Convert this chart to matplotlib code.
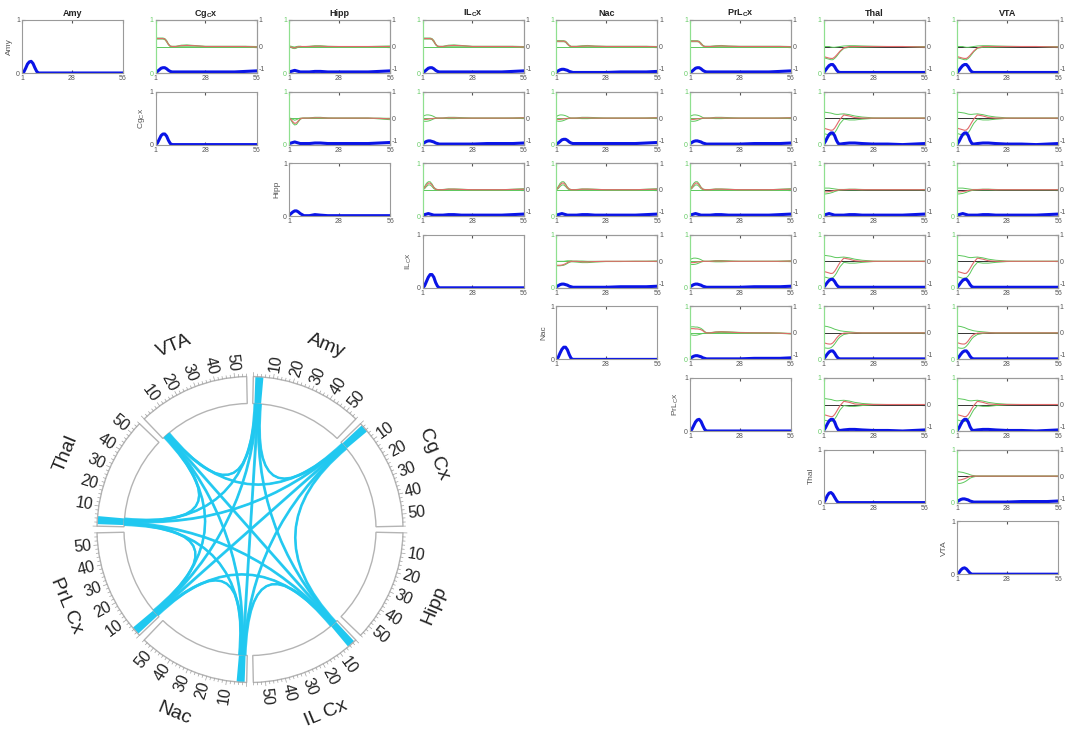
import matplotlib.pyplot as plt
import numpy as np
from matplotlib.patches import Wedge, PathPatch
from matplotlib.path import Path

plt.rcParams['font.family'] = ['Liberation Sans', 'DejaVu Sans']
plt.rcParams['mathtext.fontset'] = 'custom'
plt.rcParams['mathtext.rm'] = 'Liberation Sans'
plt.rcParams['mathtext.bf'] = 'Liberation Sans:bold'
plt.rcParams['mathtext.default'] = 'regular'
plt.rcParams['axes.unicode_minus'] = False

# === data ===
REGIONS = ['Amy', 'Cg', 'Hipp', 'IL', 'Nac', 'PrL', 'Thal', 'VTA']
PANEL_NAMES = ['Amy', 'Cg$_C$x', 'Hipp', 'IL$_C$x', 'Nac', 'PrL$_C$x', 'Thal', 'VTA']
TITLES = ['Amy', r'Cg$_\mathbf{C}$x', 'Hipp', r'IL$_\mathbf{C}$x', 'Nac',
          r'PrL$_\mathbf{C}$x', 'Thal', 'VTA']

# time lags (x axis) where values were read
XS = [1, 2, 3, 4, 5, 6, 7, 8, 9, 10, 12, 15, 18, 22, 28, 36, 44, 50, 56]

# diagonal panels (blue, left axis 0..1)
DIAG_BLUE = {
    'Amy':  [0, .02, .09, .17, .21, .22, .18, .10, .03, 0, 0, 0, 0, 0, 0, 0, 0, 0, 0],
    'Cg':   [0, .03, .10, .17, .20, .20, .16, .08, .02, 0, 0, 0, 0, 0, 0, 0, 0, 0, 0],
    'Hipp': [.02, .05, .08, .10, .10, .08, .05, .03, .01, .01, .01, .03, .02, .01, .01, .01, .01, .01, .01],
    'IL':   [0, .04, .12, .20, .25, .25, .20, .10, .03, 0, 0, 0, 0, 0, 0, 0, 0, 0, 0],
    'Nac':  [0, .04, .12, .19, .23, .23, .18, .09, .02, 0, 0, 0, 0, 0, 0, 0, 0, 0, 0],
    'PrL':  [0, .03, .10, .17, .21, .22, .18, .10, .03, 0, 0, 0, 0, 0, 0, 0, 0, 0, 0],
    'Thal': [0, .05, .13, .18, .19, .16, .10, .04, 0, 0, 0, 0, 0, 0, 0, 0, 0, 0, 0],
    'VTA':  [0, .03, .08, .11, .12, .10, .06, .02, 0, 0, 0, 0, 0, 0, 0, 0, 0, 0, 0],
}

# off-diagonal blue curves (left axis 0..1)
B_FLAT = [.02, .03, .04, .05, .04, .03, .02, .02, .02, .02, .02, .03, .03, .02, .02, .02, .02, .03, .04]
B_SMALL = [.02, .04, .06, .07, .07, .06, .05, .03, .02, .01, .01, .01, .01, .01, .01, .02, .02, .02, .03]
B_PEAK = [.01, .03, .06, .09, .10, .10, .08, .05, .03, .02, .02, .02, .02, .02, .02, .02, .02, .03, .04]
B_MID = [.01, .05, .10, .14, .16, .16, .12, .06, .02, .01, .01, .01, .01, .01, .01, .01, .01, .01, .01]
B_BIG = [.01, .06, .13, .19, .22, .22, .17, .08, .02, .01, .02, .03, .03, .02, .01, .01, 0, .01, .02]

# off-diagonal red estimate and green bounds (right axis -1..1): (red, upper, lower)
DROP = ([.30, .30, .30, .30, .30, .28, .20, .08, .01, 0, 0, .03, .04, .03, 0, 0, 0, 0, -.02],
        [.32, .32, .32, .32, .32, .30, .23, .10, .02, .01, .01, .05, .06, .04, .01, .01, .01, .01, 0],
        [.28, .28, .28, .28, .28, .26, .17, .06, 0, -.01, -.01, -.01, -.01, -.01, -.01, -.01, -.01, -.02, -.04])
DROP_LOW = ([.20, .20, .20, .20, .20, .18, .10, .03, 0, 0, 0, .01, .02, .01, 0, 0, 0, 0, -.01],
            [.22, .22, .22, .22, .22, .20, .13, .05, .01, .01, .01, .03, .04, .02, .01, .01, .01, .01, 0],
            [.18, .18, .18, .18, .18, .16, .08, .02, -.01, -.01, -.01, -.01, -.01, -.01, -.01, -.01, -.01, -.02, -.03])
FLAT_DIP = ([0, -.02, -.05, -.05, -.03, -.01, 0, 0, 0, 0, 0, .01, .01, 0, 0, 0, 0, 0, 0],
            [.02, .01, -.01, -.02, 0, .01, .01, 0, 0, 0, .01, .03, .03, .01, 0, 0, 0, .01, .02],
            [-.02, -.04, -.07, -.08, -.06, -.02, -.01, 0, 0, 0, -.01, -.01, -.01, -.01, 0, 0, 0, -.02, -.03])
LOOP_DOWN = ([0, -.05, -.14, -.20, -.18, -.10, -.03, 0, 0, 0, 0, .01, .01, 0, 0, 0, 0, -.01, -.03],
             [0, -.01, -.05, -.08, -.06, -.02, 0, 0, 0, 0, .01, .03, .03, .01, 0, 0, 0, 0, -.01],
             [0, -.08, -.20, -.26, -.24, -.14, -.05, -.01, 0, 0, -.01, -.01, -.01, -.01, 0, 0, 0, -.03, -.06])
ELLIPSE = ([-.04, -.05, -.05, -.04, -.03, -.02, -.01, 0, 0, 0, 0, .01, .01, 0, 0, 0, 0, 0, .01],
           [.06, .10, .12, .12, .11, .09, .06, .02, 0, 0, .01, .03, .03, .02, 0, 0, 0, .01, .02],
           [-.10, -.12, -.12, -.11, -.09, -.06, -.03, -.01, 0, 0, -.01, -.02, -.02, -.01, 0, 0, 0, -.01, -.01])
LOOP_UP = ([0, .08, .18, .25, .25, .18, .08, .02, 0, 0, 0, .02, .02, .01, 0, 0, 0, .01, .02],
           [.02, .12, .24, .30, .30, .22, .10, .03, .01, 0, .01, .03, .03, .02, 0, 0, 0, .02, .04],
           [0, .04, .12, .18, .18, .12, .04, 0, 0, 0, -.01, 0, 0, 0, 0, 0, 0, 0, 0])
THAL_A = ([-.38, -.40, -.42, -.44, -.45, -.45, -.40, -.33, -.25, -.17, -.05, 0, 0, 0, 0, 0, 0, -.01, -.02],
          [0, 0, 0, 0, -.02, -.03, -.03, -.02, -.01, 0, .02, .03, .03, .02, .01, 0, 0, 0, 0],
          [-.42, -.44, -.46, -.48, -.50, -.50, -.45, -.38, -.29, -.20, -.07, -.03, -.03, -.02, -.01, 0, 0, -.01, -.02])
THAL_B = ([-.38, -.40, -.42, -.44, -.46, -.45, -.38, -.27, -.15, -.04, .12, .08, .02, 0, 0, 0, 0, 0, 0],
          [.22, .22, .21, .20, .19, .17, .15, .14, .14, .15, .16, .13, .08, .04, .01, 0, 0, 0, 0],
          [-.58, -.60, -.62, -.64, -.64, -.62, -.55, -.45, -.32, -.20, -.04, -.07, -.07, -.04, -.01, 0, 0, 0, 0])
THAL_C = ([-.37, -.39, -.41, -.42, -.42, -.38, -.30, -.20, -.12, -.06, -.01, 0, 0, 0, 0, 0, 0, 0, 0],
          [.26, .25, .24, .22, .20, .17, .14, .12, .10, .08, .06, .04, .02, 0, 0, 0, 0, 0, 0],
          [-.55, -.57, -.58, -.58, -.56, -.50, -.42, -.32, -.22, -.15, -.06, -.02, 0, 0, 0, 0, 0, 0, 0])
THAL_D = ([-.08, -.08, -.08, -.07, -.06, -.05, -.03, -.02, -.01, 0, 0, .01, .01, 0, 0, 0, 0, 0, 0],
          [.06, .06, .06, .06, .05, .04, .03, .02, .01, .01, .01, .02, .02, .01, 0, 0, 0, 0, .01],
          [-.16, -.16, -.15, -.14, -.12, -.10, -.07, -.05, -.03, -.02, -.01, -.01, -.01, -.01, 0, 0, 0, 0, -.01])
SMALL_NEG = ([-.15, -.15, -.15, -.14, -.12, -.09, -.05, -.02, 0, 0, 0, -.02, -.02, -.01, 0, 0, 0, 0, 0],
             [0, 0, 0, 0, 0, .01, .02, .02, .02, .01, .01, .01, 0, 0, 0, 0, 0, 0, .01],
             [-.17, -.17, -.17, -.16, -.15, -.12, -.08, -.04, -.02, -.02, -.03, -.05, -.05, -.03, -.01, -.01, 0, 0, 0])
PRL_DROP = ([.16, .16, .16, .15, .15, .14, .12, .08, .03, 0, 0, .03, .04, .03, .01, 0, 0, -.01, -.03],
            [.22, .23, .23, .22, .22, .20, .17, .12, .05, .01, .01, .04, .05, .04, .02, .01, 0, 0, -.02],
            [-.05, -.08, -.09, -.09, -.08, -.06, -.04, -.02, -.01, 0, 0, .01, .02, .01, 0, 0, 0, -.02, -.04])
VTA_CONV = ([-.15, -.15, -.14, -.12, -.10, -.07, -.04, -.02, 0, 0, 0, 0, 0, 0, 0, 0, 0, 0, 0],
            [.16, .16, .15, .14, .12, .10, .08, .05, .03, .02, 0, 0, 0, 0, 0, 0, 0, 0, 0],
            [-.28, -.28, -.27, -.25, -.22, -.18, -.13, -.08, -.05, -.03, 0, 0, 0, 0, 0, 0, 0, 0, 0])

PANELS = {
    (0, 1): (DROP, B_PEAK), (0, 2): (FLAT_DIP, B_FLAT), (0, 3): (DROP, B_PEAK),
    (0, 4): (DROP_LOW, B_SMALL), (0, 5): (DROP_LOW, B_PEAK), (0, 6): (THAL_A, B_MID),
    (0, 7): (THAL_A, B_MID),
    (1, 2): (LOOP_DOWN, B_FLAT), (1, 3): (ELLIPSE, B_SMALL), (1, 4): (ELLIPSE, B_PEAK),
    (1, 5): (ELLIPSE, B_SMALL), (1, 6): (THAL_B, B_BIG), (1, 7): (THAL_B, B_BIG),
    (2, 3): (LOOP_UP, B_FLAT), (2, 4): (LOOP_UP, B_FLAT), (2, 5): (LOOP_UP, B_FLAT),
    (2, 6): (THAL_D, B_FLAT), (2, 7): (THAL_D, B_FLAT),
    (3, 4): (SMALL_NEG, B_SMALL), (3, 5): (ELLIPSE, B_SMALL), (3, 6): (THAL_B, B_MID),
    (3, 7): (THAL_B, B_MID),
    (4, 5): (PRL_DROP, B_SMALL), (4, 6): (THAL_C, B_MID), (4, 7): (THAL_C, B_MID),
    (5, 6): (THAL_B, B_BIG), (5, 7): (THAL_B, B_BIG),
    (6, 7): (VTA_CONV, B_SMALL),
}

# chord diagram
RING_NAMES = ['Amy', 'Cg Cx', 'Hipp', 'IL Cx', 'Nac', 'PrL Cx', 'Thal', 'VTA']
SEG_LEN = 56
BAND_NODES = ['Amy', 'Cg Cx', 'IL Cx', 'Nac', 'PrL Cx', 'Thal']
BAND_RANGE = (1, 5)
LINKS = [('Amy', 'Cg Cx'), ('Amy', 'IL Cx'), ('Amy', 'Nac'), ('Amy', 'PrL Cx'),
         ('Amy', 'Thal'), ('Amy', 'VTA'), ('Cg Cx', 'IL Cx'), ('Cg Cx', 'Nac'),
         ('Cg Cx', 'PrL Cx'), ('Cg Cx', 'Thal'), ('Cg Cx', 'VTA'), ('IL Cx', 'Nac'),
         ('IL Cx', 'PrL Cx'), ('IL Cx', 'Thal'), ('IL Cx', 'VTA'), ('Nac', 'PrL Cx'),
         ('Nac', 'Thal'), ('Nac', 'VTA'), ('PrL Cx', 'Thal'), ('PrL Cx', 'VTA'),
         ('Thal', 'VTA')]

BLUE = '#0a14e6'
RED = '#e06a6a'
GREEN = '#5cc85c'
SPINE = '#9a9a9a'
LEFT_GREEN = '#8fe08f'
TXT = '#555555'
CYAN = '#20c8f0'

W, H = 1069, 732
fig = plt.figure(figsize=(W / 100, H / 100), dpi=100)

COL_X0, COL_STEP, PW = 22, 133.6, 101
ROW_Y0, ROW_STEP, PH = 20, 71.6, 53


def style(ax):
    ax.set_xlim(1, 56)
    ax.set_ylim(0, 1)
    ax.set_xticks([1, 28, 56])
    ax.set_yticks([0, 1])
    ax.tick_params(labelsize=5, colors=TXT, length=2, direction='in', pad=1.5, top=True)
    for s in ax.spines.values():
        s.set_color(SPINE)
        s.set_linewidth(0.8)


# === upper-triangular grid of panels ===
for i in range(8):
    for j in range(i, 8):
        left = COL_X0 + COL_STEP * j
        top = ROW_Y0 + ROW_STEP * i
        ax = fig.add_axes([left / W, 1 - (top + PH) / H, PW / W, PH / H])
        style(ax)
        if i == 0:
            ax.set_title(TITLES[j], fontsize=6.5, fontweight='bold', pad=3, color='#222')
        if i == j:
            ax.plot(XS, DIAG_BLUE[REGIONS[i]], color=BLUE, lw=2.2)
            ax.set_ylabel(PANEL_NAMES[i], fontsize=6, color=TXT, labelpad=2)
            continue
        (red, hi, lo), blue = PANELS[(i, j)]
        ax.spines['left'].set_color(LEFT_GREEN)
        for t in ax.get_yticklabels():
            t.set_color('#66cc66')
        ax2 = ax.twinx()
        ax2.set_ylim(-1, 1)
        ax2.set_yticks([-1, 0, 1])
        labs = ax2.set_yticklabels(['-1', '0', '1'])
        labs[0].set_va('bottom')
        ax2.tick_params(labelsize=5, colors=TXT, length=2, direction='in', pad=1.2)
        for s in ax2.spines.values():
            s.set_color(SPINE)
            s.set_linewidth(0.8)
        ax2.spines['left'].set_color(LEFT_GREEN)
        zc = '#333333' if j >= 6 else GREEN
        ax2.axhline(0, color=zc, lw=0.7)
        ax2.plot(XS, hi, color=GREEN, lw=0.7)
        ax2.plot(XS, lo, color=GREEN, lw=0.7)
        ax2.plot(XS, red, color=RED, lw=0.8)
        ax2.plot(np.array(XS), np.array(blue) * 2 - 1, color=BLUE, lw=2.2)

# === chord diagram ===
cax = fig.add_axes([0, 0, 500 / W, 432 / H])
cax.set_xlim(0, 500)
cax.set_ylim(0, 432)
cax.axis('off')
CX, CY = 250, 202.5
R_IN, R_OUT = 126, 153
GAP = 2.5
SPAN = 45 - GAP


def deg(k, u):
    return 90 - 45 * k - GAP / 2 - u * SPAN / SEG_LEN


def pt(k, u, r):
    a = np.deg2rad(deg(k, u))
    return CX + r * np.cos(a), CY + r * np.sin(a)


for k, name in enumerate(RING_NAMES):
    a0 = deg(k, 0)
    a1 = deg(k, SEG_LEN)
    if name in BAND_NODES:
        cax.add_patch(Wedge((CX, CY), R_OUT, deg(k, BAND_RANGE[1]), deg(k, BAND_RANGE[0]),
                            width=R_OUT - R_IN, fc=CYAN, ec='none'))
    cax.add_patch(Wedge((CX, CY), R_OUT, a1, a0, width=R_OUT - R_IN, fill=False,
                        ec='#b4b4b4', lw=1.0))
    for u in range(0, SEG_LEN + 1, 2):
        tl = 4 if u % 10 == 0 else 2.5
        x0, y0 = pt(k, u, R_OUT)
        x1, y1 = pt(k, u, R_OUT + tl)
        cax.plot([x0, x1], [y0, y1], color='#a0a0a0', lw=0.5)
    for u in range(10, SEG_LEN, 10):
        a = deg(k, u)
        a = (a + 180) % 360 - 180
        x, y = pt(k, u, R_OUT + 6)
        if -90 <= a <= 90:
            rot, ha = a, 'left'
        else:
            rot, ha = (a - 180 if a > 90 else a + 180), 'right'
        cax.text(x, y, str(u), rotation=rot, ha=ha, va='center', rotation_mode='anchor',
                 fontsize=11.5, color='#222')
    mid = deg(k, SEG_LEN / 2)
    mid = (mid + 180) % 360 - 180
    x, y = CX + 199 * np.cos(np.deg2rad(mid)), CY + 199 * np.sin(np.deg2rad(mid))
    rot = mid - 90 if mid > 0 else mid + 90
    cax.text(x, y, name, rotation=rot, ha='center', va='center', rotation_mode='anchor',
             fontsize=14, color='#222')

# attach position of each chord inside the node's band
partners = {n: [] for n in RING_NAMES}
for a, b in LINKS:
    partners[a].append(b)
    partners[b].append(a)
slot = {}
for n, ps in partners.items():
    k = RING_NAMES.index(n)
    ps = sorted(ps, key=lambda p: -((RING_NAMES.index(p) - k) % 8))
    for idx, p in enumerate(ps):
        frac = idx / max(len(ps) - 1, 1)
        slot[(n, p)] = BAND_RANGE[0] + 0.4 + frac * (BAND_RANGE[1] - BAND_RANGE[0] - 0.8)

for a, b in LINKS:
    ka, kb = RING_NAMES.index(a), RING_NAMES.index(b)
    for off in (-0.3, 0.3):
        p0 = pt(ka, slot[(a, b)] + off, R_IN)
        p1 = pt(kb, slot[(b, a)] - off, R_IN)
        path = Path([p0, (CX, CY), p1], [Path.MOVETO, Path.CURVE3, Path.CURVE3])
        cax.add_patch(PathPatch(path, fc='none', ec=CYAN, lw=1.6, alpha=0.9))

fig.savefig('out.png', dpi=100)
